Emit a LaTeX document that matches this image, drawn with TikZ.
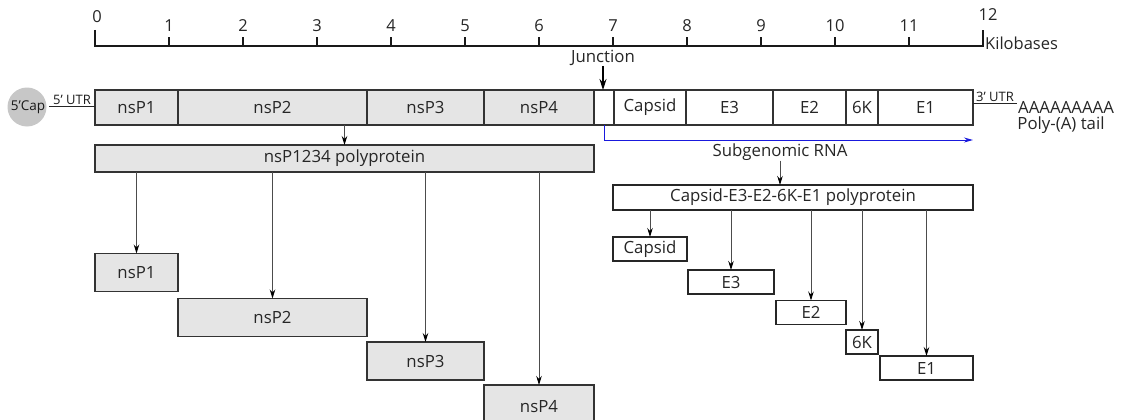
\documentclass[tikz,border=0pt]{standalone}
\usepackage{fontspec}
\setmainfont{Open Sans}
\usetikzlibrary{arrows.meta,calc}
\begin{document}
\begin{tikzpicture}[x=1pt,y=-1pt,
  every node/.style={font=\fontsize{16.8}{18}\selectfont, text=black!85},
  seg/.style={draw=black!80, line width=1.4pt, inner sep=0pt, outer sep=0pt, minimum height=35pt, fill=white},
  gseg/.style={seg, fill=black!10},
  pbox/.style={draw=black!80, line width=1.6pt, inner sep=0pt, outer sep=0pt, fill=black!10, minimum height=38pt},
  sbox/.style={draw=black!85, line width=1.6pt, inner sep=0pt, outer sep=0pt, fill=white, minimum height=24pt},
  arr/.style={draw=black!70, line width=0.9pt, -{Stealth[length=9pt,width=5.5pt,color=black]}},
  lbl/.style={font=\fontsize{13}{14}\selectfont, inner sep=0pt, text=black!90},
  tick/.style={font=\fontsize{16.5}{18}\selectfont, inner sep=0pt}
]
\useasboundingbox (0,0) rectangle (1127,420);

% scale
\draw[line width=2.6pt, black!90, line join=miter] (95,30) -- (95,46) -- (983,46) -- (983,30);
\foreach \i in {1,...,11}{
  \draw[line width=2.6pt, black!90] ({95+74*\i},46) -- ({95+74*\i},37);
  \node[tick] (t\i) at ({95+74*\i},26) {\i};
}
\node[tick] (t0) at (97,17) {0};
\node[tick] (t12) at (988,15) {12};
\node[tick, anchor=west] (kb) at (985,43) {Kilobases};

% genome
\node[gseg, minimum width=83pt]  (g1) at (136.5,107.5) {nsP1};
\node[gseg, minimum width=189pt] (g2) at (272.5,107.5) {nsP2};
\node[gseg, minimum width=117pt] (g3) at (425.5,107.5) {nsP3};
\node[gseg, minimum width=110pt] (g4) at (539,107.5) {nsP4};
\node[seg, minimum width=20pt]   (jn) at (604,107.5) {};
\node[seg, minimum width=72pt]   (gc) at (650,107.5) {Capsid};
\node[seg, minimum width=87pt]   (ge3) at (729.5,107.5) {E3};
\node[seg, minimum width=73pt]   (ge2) at (809.5,107.5) {E2};
\node[seg, minimum width=32pt]   (g6k) at (862,107.5) {6K};
\node[seg, minimum width=95pt]   (ge1) at (925.5,107.5) {E1};

% 5' end
\node[circle, fill=black!22, minimum size=39pt, inner sep=0pt] (cap) at (27,107) {};
\node[lbl, font=\fontsize{13.5}{15}\selectfont] (captxt) at (28,107) {5’Cap};
\coordinate (u5) at (49,106);
\draw[line width=1pt, black!85] (u5) -- node[lbl, above=1pt] (u5t) {5’ UTR} (u5 -| g1.west);

% 3' end
\coordinate (u3) at (1017,103);
\draw[line width=1pt, black!85] (u3 -| ge1.east) -- node[lbl, above=1pt] (u3t) {3’ UTR} (u3);
\node[anchor=west, inner sep=0pt] (pa) at (1018,107) {AAAAAAAAA};
\node[inner sep=0pt] (pat) at (1061,125) {Poly-(A) tail};

% junction
\node[inner sep=0pt] (junc) at (603,58) {Junction};
\draw[line width=1.2pt, black, -{Stealth[length=11pt,width=7pt]}] (junc.south) -- (junc.south |- jn.north);

% subgenomic
\coordinate (bl) at (973,140);
\draw[line width=1pt, blue!85!black!90, -{Stealth[length=9pt,width=5pt]}] (jn.south) |- (bl);
\node[inner sep=0pt] (sub) at (780,152) {Subgenomic RNA};

% nonstructural polyprotein
\node[pbox, minimum width=499pt, minimum height=27pt] (poly) at (344.5,158.5) {nsP1234 polyprotein};
\draw[arr] (poly.north |- g2.south) -- (poly.north);

\node[pbox, minimum width=83pt]  (p1) at (136.5,272.5) {nsP1};
\node[pbox, minimum width=189pt] (p2) at (272.5,317.5) {nsP2};
\node[pbox, minimum width=117pt] (p3) at (425.5,361) {nsP3};
\node[pbox, minimum width=110pt, minimum height=44pt] (p4) at (539,407) {nsP4};
\foreach \n in {p1,p2,p3,p4}
  \draw[arr] (\n.north |- poly.south) -- (\n.north);

% structural polyprotein
\node[sbox, minimum width=360pt, minimum height=25pt] (cpoly) at (793,197.5) {Capsid-E3-E2-6K-E1 polyprotein};
\draw[arr] (sub.south) -- (sub.south |- cpoly.north);

\node[sbox, minimum width=74pt] (s1) at (650,249) {Capsid};
\node[sbox, minimum width=86pt] (s2) at (731,282) {E3};
\node[sbox, minimum width=70pt] (s3) at (811,312.5) {E2};
\node[sbox, minimum width=32pt] (s4) at (862,342) {6K};
\node[sbox, minimum width=93pt] (s5) at (926.5,368) {E1};
\foreach \n in {s1,s2,s3,s4,s5}
  \draw[arr] (\n.north |- cpoly.south) -- (\n.north);
\end{tikzpicture}
\end{document}
